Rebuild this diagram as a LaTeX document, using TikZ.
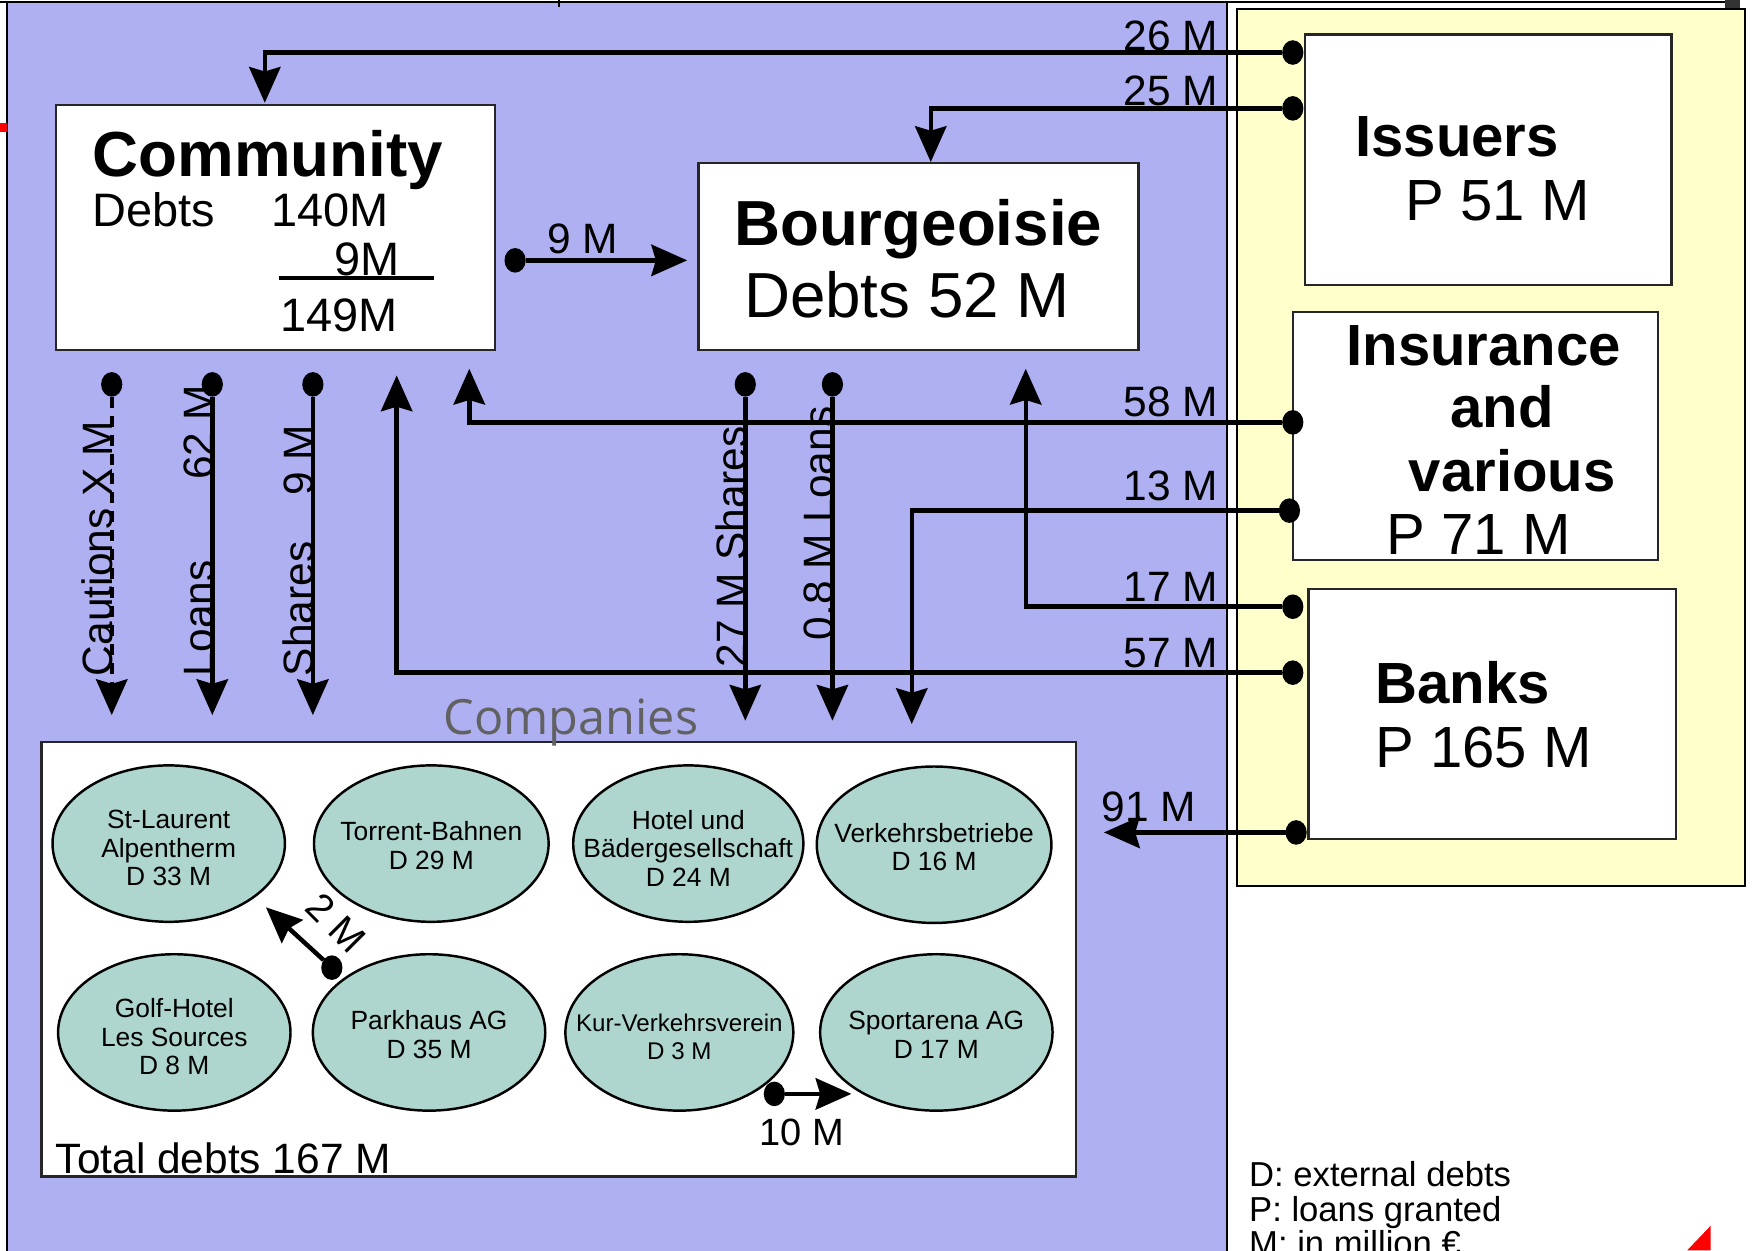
\documentclass[tikz,border=0pt]{standalone}
\usepackage{fontspec}
\setmainfont{Liberation Sans}
\newfontfamily\compfont{Open Sans}
\usetikzlibrary{arrows.meta,shapes.geometric}
\definecolor{purp}{RGB}{175,176,242}
\definecolor{yel}{RGB}{255,255,204}
\definecolor{compteal}{RGB}{174,214,206}
\begin{document}
\begin{tikzpicture}[x=0.5pt,y=-0.5pt,
  every node/.style={inner sep=0pt,outer sep=0pt},
  panel/.style={draw=black,line width=1pt},
  box/.style={rectangle,draw=black!85,fill=white,line width=1.1pt},
  comp/.style={ellipse,draw=black,fill=compteal,line width=1.1pt},
  ctext/.style={align=center,font=\fontsize{11.8}{12.8}\selectfont},
  pdot/.style={ellipse,fill=black,minimum width=9.5pt,minimum height=11pt},
  flow/.style={line width=2pt,-{Stealth[length=16pt,width=14pt,inset=2pt]}},
  lab/.style={font=\fontsize{19}{22}\selectfont},
  ttl/.style={font=\bfseries\fontsize{28.5}{32}\selectfont},
  ttlb/.style={font=\bfseries\fontsize{26}{29}\selectfont},
  sub/.style={font=\fontsize{26}{29}\selectfont},
  deb/.style={font=\fontsize{21}{24}\selectfont},
  leg/.style={font=\fontsize{15.5}{15.5}\selectfont}]
\clip (0,0) rectangle (1568,1119);
\fill[white] (0,0) rectangle (1568,1119);
% panels
\draw[panel,fill=purp] (6,2) rectangle (1098,1140);
\draw[panel,fill=yel] (1107,8) rectangle (1562,793);
\draw[line width=1pt] (0,2) -- (1545,2);
\draw[line width=1pt] (500,0) -- (500,6);
\fill[black!80] (1544,0) rectangle (1557,7);
\fill[red] (0,110) rectangle (6,118);
\fill[red] (1510,1119) -- (1531,1097) -- (1531,1119) -- cycle;
% boxes
\node[box,minimum width=196.5pt,minimum height=109.5pt] (comm) at (246.5,203.5) {};
\node[box,minimum width=197pt,minimum height=83.5pt] (bour) at (822,229.5) {};
\node[box,minimum width=164pt,minimum height=112pt] (iss) at (1332,143) {};
\node[box,minimum width=163.5pt,minimum height=111pt] (ins) at (1320.5,390) {};
\node[box,minimum width=164.5pt,minimum height=112pt] (bank) at (1335.5,639) {};
\node[box,minimum width=463pt,minimum height=194.5pt] (comps) at (500,858.5) {};
% box texts
\node[ttl,anchor=base west] (commT) at (83,158) {Community};
\node[deb,anchor=base west] (commD) at (83,203) {Debts};
\node[deb,anchor=base west] (commA) at (243,203) {140M};
\node[deb,anchor=base east] (commB) at (358,247) {9M};
\draw[line width=2pt] (250,249) -- (388,249);
\node[deb,anchor=base west] (commC) at (251,297) {149M};
\node[ttl,anchor=base west] (bourT) at (657,220) {Bourgeoisie};
\node[font=\fontsize{28.5}{32}\selectfont,anchor=base west] (bourD) at (666,284) {Debts 52 M};
\node[ttlb,anchor=base west] (issT) at (1213,140) {Issuers};
\node[sub,anchor=base west] (issP) at (1258,197) {P 51 M};
\node[ttlb,anchor=base west] (insT1) at (1205,327) {Insurance};
\node[ttlb,anchor=base west] (insT2) at (1298,383) {and};
\node[ttlb,anchor=base west] (insT3) at (1261,440) {various};
\node[sub,anchor=base west] (insP) at (1241,496) {P 71 M};
\node[ttlb,anchor=base west] (bankT) at (1231,630) {Banks};
\node[sub,anchor=base west] (bankP) at (1231,687) {P 165 M};
% companies
\node[font=\compfont\fontsize{21.75}{24}\selectfont,text=black!62,anchor=base west] (compL) at (397,657) {Companies};
\node[comp,minimum width=104pt,minimum height=70pt] (e1) at (151,755) {};
\node[comp,minimum width=105pt,minimum height=70pt] (e2) at (386,755) {};
\node[comp,minimum width=103pt,minimum height=70pt] (e3) at (616,755) {};
\node[comp,minimum width=105pt,minimum height=70pt] (e4) at (836,756) {};
\node[comp,minimum width=104pt,minimum height=70pt] (e5) at (156,924) {};
\node[comp,minimum width=104pt,minimum height=70pt] (e6) at (384,924) {};
\node[comp,minimum width=102pt,minimum height=70pt] (e7) at (608,924) {};
\node[comp,minimum width=104pt,minimum height=70pt] (e8) at (838,924) {};
\node[ctext] (t1) at ([yshift=-2pt]e1.center) {St-Laurent\\Alpentherm\\D 33 M};
\node[ctext] (t2) at ([yshift=-1pt]e2.center) {Torrent-Bahnen\\D 29 M};
\node[ctext] (t3) at ([yshift=-2pt]e3.center) {Hotel und\\Bädergesellschaft\\D 24 M};
\node[ctext] (t4) at ([yshift=-1pt]e4.center) {Verkehrsbetriebe\\D 16 M};
\node[ctext] (t5) at ([yshift=-2pt]e5.center) {Golf-Hotel\\Les Sources\\D 8 M};
\node[ctext] (t6) at ([yshift=-1pt]e6.center) {Parkhaus AG\\D 35 M};
\node[ctext,font=\fontsize{10.8}{12.8}\selectfont] (t7) at ([yshift=-2pt]e7.center) {Kur-Verkehrsverein\\D 3 M};
\node[ctext] (t8) at ([yshift=-1pt]e8.center) {Sportarena AG\\D 17 M};
\node[lab,anchor=base west] (tot) at (50,1050) {Total debts 167 M};
% dots
\node[pdot] (d26) at (1157,47) {};
\node[pdot] (d25) at (1157,97) {};
\node[pdot] (d58) at (1157,378) {};
\node[pdot] (d13) at (1154,457) {};
\node[pdot] (d17) at (1157,543) {};
\node[pdot] (d57) at (1157,602) {};
\node[pdot] (d91) at (1160,745) {};
\node[pdot] (d9) at (461,233) {};
\node[pdot] (dca) at (100,344) {};
\node[pdot] (dlo) at (190,344) {};
\node[pdot] (dsh) at (280,344) {};
\node[pdot] (dbs) at (667,344) {};
\node[pdot] (dbl) at (745,344) {};
\node[pdot] (d2) at (297,866) {};
\node[pdot] (d10) at (693,979) {};
% arrow ends
\coordinate (t26) at (237,92);
\coordinate (t25) at (833,145);
\coordinate (t58) at (420,330);
\coordinate (t13) at (816,648);
\coordinate (t17) at (918,330);
\coordinate (t57) at (355,336);
\coordinate (t91) at (988,745);
\coordinate (t9) at (615,233);
\coordinate (tca) at (100,640);
\coordinate (tlo) at (190,640);
\coordinate (tsh) at (280,640);
\coordinate (tbs) at (667,645);
\coordinate (tbl) at (745,645);
\coordinate (t2) at (238,812);
\coordinate (t10) at (762,979);
% flows
\draw[flow] (d26) -| (t26);
\draw[flow] (d25) -| (t25);
\draw[flow] (d58) -| (t58);
\draw[flow] (d13) -| (t13);
\draw[flow] (d17) -| (t17);
\draw[flow] (d57) -| (t57);
\draw[flow] (d91) -- (t91);
\draw[flow] (d9) -- (t9);
\draw[flow,dash pattern=on 5pt off 3.5pt] (dca) -- (tca);
\draw[flow] (dlo) -- (tlo);
\draw[flow] (dsh) -- (tsh);
\draw[flow] (dbs) -- (tbs);
\draw[flow] (dbl) -- (tbl);
\draw[flow] (d2) -- (t2);
\draw[flow] (d10) -- (t10);
% flow labels
\node[lab,anchor=base east] (l26) at (1090,45) {26 M};
\node[lab,anchor=base east] (l25) at (1090,94) {25 M};
\node[lab,anchor=base east] (l58) at (1090,373) {58 M};
\node[lab,anchor=base east] (l13) at (1090,448) {13 M};
\node[lab,anchor=base east] (l17) at (1090,538) {17 M};
\node[lab,anchor=base east] (l57) at (1090,597) {57 M};
\node[lab,anchor=base west] (l91) at (986,735) {91 M};
\node[lab,anchor=base west] (l9) at (490,227) {9 M};
\node[lab,font=\fontsize{17}{20}\selectfont,anchor=base west] (l10) at (680,1025) {10 M};
\node[lab,font=\fontsize{17.5}{20}\selectfont,rotate=-45] (l2) at (301,826) {2 M};
\node[lab,rotate=90,anchor=base west] (lca) at (101,605) {Cautions X M};
\node[lab,rotate=90,anchor=base west] (llo) at (191,605) {Loans};
\node[lab,rotate=90,anchor=base east] (llo2) at (191,345) {62 M};
\node[lab,rotate=90,anchor=base west] (lsh) at (281,605) {Shares};
\node[lab,rotate=90,anchor=base east] (lsh2) at (281,380) {9 M};
\node[lab,rotate=90,anchor=base west] (lbs) at (668,597) {27 M Shares};
\node[lab,rotate=90,anchor=base west] (lbl) at (746,573) {0.8 M Loans};
% legend
\node[leg,anchor=base west] (lg1) at (1118,1062) {D: external debts};
\node[leg,anchor=base west] (lg2) at (1118,1093) {P: loans granted};
\node[leg,anchor=base west] (lg3) at (1118,1124) {M: in million €};
\end{tikzpicture}
\end{document}
